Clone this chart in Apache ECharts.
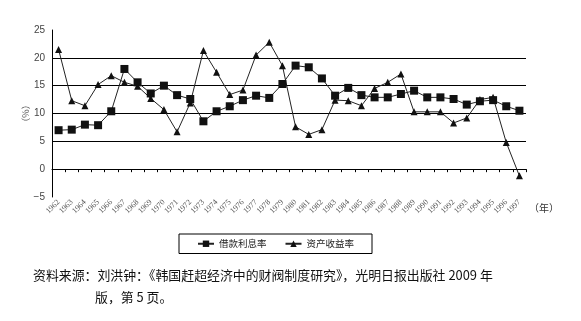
<!DOCTYPE html>
<html><head><meta charset="utf-8">
<script src="https://cdn.jsdelivr.net/npm/echarts@6/dist/echarts.min.js"></script>
<style>html,body{margin:0;padding:0;background:#fff}#c{width:581px;height:321px}</style>
</head><body><div id="c"></div>
<script>
var years = ['1962','1963','1964','1965','1966','1967','1968','1969','1970','1971','1972','1973','1974','1975','1976','1977','1978','1979','1980','1981','1982','1983','1984','1985','1986','1987','1988','1989','1990','1991','1992','1993','1994','1995','1996','1997'];
var loanRate = [7.0,7.1,8.0,7.9,10.4,18.0,15.6,13.6,15.0,13.3,12.6,8.6,10.4,11.3,12.4,13.2,12.8,15.3,18.6,18.3,16.3,13.2,14.6,13.3,12.9,12.9,13.5,14.1,12.9,12.9,12.6,11.6,12.2,12.4,11.3,10.5];
var assetReturn = [21.5,12.3,11.4,15.2,16.8,15.6,14.9,12.7,10.7,6.7,11.9,21.3,17.4,13.4,14.2,20.5,22.8,18.6,7.6,6.25,7.1,12.4,12.3,11.4,14.5,15.6,17.1,10.3,10.3,10.3,8.3,9.2,12.5,12.9,4.8,-1.2];
var seriesNames = ['借款利息率','资产收益率'];
var xUnit = '（年）';
var caption1 = '资料来源：刘洪钟：《韩国赶超经济中的财阀制度研究》，光明日报出版社 2009 年';
var caption2 = '版，第 5 页。';

var chart = echarts.init(document.getElementById('c'));
var fam = '"Noto Sans CJK SC", "Noto Sans", sans-serif';
chart.setOption({
  animation: false,
  textStyle: {fontFamily: fam},
  grid: {left: 52, right: 55, top: 30, bottom: 124},
  legend: {
    data: seriesNames,
    left: 179, top: 234, width: 206, height: 24,
    padding: [5, 18, 5, 18],
    borderColor: '#000', borderWidth: 1,
    itemWidth: 16, itemHeight: 8, itemGap: 18,
    textStyle: {fontSize: 9.5, color: '#222', fontFamily: fam}
  },
  xAxis: {
    type: 'category', data: years, boundaryGap: true,
    axisLine: {lineStyle: {color: '#000', width: 1}},
    axisTick: {show: true, length: 3, lineStyle: {color: '#000'}},
    axisLabel: {rotate: 45, fontSize: 8, color: '#555', interval: 0, margin: 4, fontFamily: 'Liberation Serif'},
    splitLine: {show: false}
  },
  yAxis: {
    type: 'value', min: -5, max: 25, interval: 5,
    name: '（%）', nameLocation: 'middle', nameRotate: 90, nameGap: 22, nameMoveOverlap: false,
    nameTextStyle: {fontSize: 9, color: '#555'},
    axisLine: {show: true, lineStyle: {color: '#000', width: 1}},
    axisTick: {show: false},
    axisLabel: {fontSize: 10, color: '#444', margin: 7, fontFamily: 'Liberation Sans',
      formatter: function(v){ return v < 0 ? '\u2212' + Math.abs(v) : String(v); }},
    splitLine: {show: true, showMinLine: false, showMaxLine: false, lineStyle: {color: '#000', width: 1}}
  },
  series: [
    {name: seriesNames[0], type: 'line', data: loanRate, symbol: 'rect', symbolSize: 8,
     itemStyle: {color: '#111'}, lineStyle: {color: '#222', width: 1}},
    {name: seriesNames[1], type: 'line', data: assetReturn, symbol: 'triangle', symbolSize: 7,
     itemStyle: {color: '#111'}, lineStyle: {color: '#222', width: 1}}
  ],
  graphic: [
    {type: 'text', left: 529, top: 203, style: {text: xUnit, font: '10px ' + fam, fill: '#333'}},
    {type: 'text', left: 33, top: 269, style: {text: caption1, font: '12.9px ' + fam, fill: '#111'}},
    {type: 'text', left: 95, top: 291, style: {text: caption2, font: '12.9px ' + fam, fill: '#111'}}
  ]
});
</script></body></html>
